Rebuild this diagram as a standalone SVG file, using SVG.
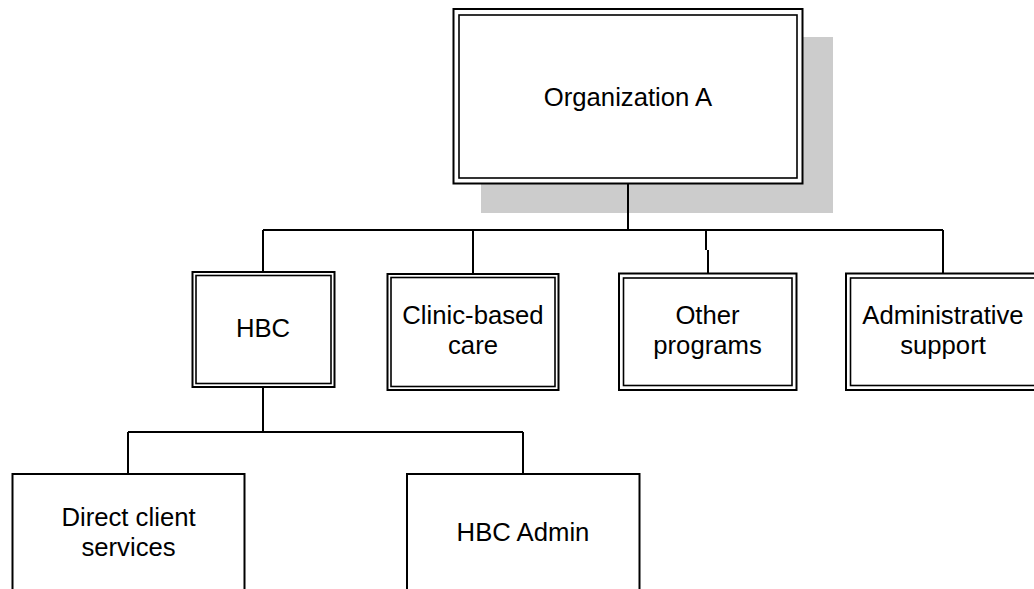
<svg xmlns="http://www.w3.org/2000/svg" width="1034" height="589" viewBox="0 0 1034 589">
<style>
.o{fill:#fff;stroke:#000;stroke-width:2}
.i{fill:none;stroke:#000;stroke-width:1.6}
.s{fill:#fff;stroke:#000;stroke-width:2}
.c{fill:none;stroke:#000;stroke-width:2}
text{font-family:"Liberation Sans",Arial,sans-serif;font-size:25.7px;fill:#000;text-anchor:middle}
</style>
<rect width="1034" height="589" fill="#fff"/>
<g id="orgA">
<rect x="481" y="37" width="352" height="176" fill="#cccccc"/>
<rect class="o" x="453.5" y="9" width="349" height="174.5"/>
<rect class="i" x="459" y="15" width="338" height="163"/>
<text x="628" y="105.5">Organization A</text>
</g>
<g id="connectors">
<path class="c" d="M628 184V230M263 230H943M263 230V272M473 230V274M706 230V250M708 250V274M943 230V273.5"/>
<path class="c" d="M263 387V432M128 432H523M128 432V474M523 432V474"/>
</g>
<g id="hbc">
<rect class="o" x="192.5" y="272" width="142" height="115"/>
<rect class="i" x="196" y="275.5" width="135" height="108"/>
<text x="263" y="337">HBC</text>
</g>
<g id="clinic">
<rect class="o" x="387.5" y="274" width="171" height="116"/>
<rect class="i" x="391" y="277.5" width="164" height="109"/>
<text x="473" y="324">Clinic-based</text>
<text x="473" y="354">care</text>
</g>
<g id="other">
<rect class="o" x="619" y="273.5" width="177.5" height="116.5"/>
<rect class="i" x="623.5" y="278" width="168.5" height="107.5"/>
<text x="707.5" y="324">Other</text>
<text x="707.5" y="354">programs</text>
</g>
<g id="admin">
<rect class="o" x="846" y="273.5" width="194" height="116.5"/>
<rect class="i" x="850.5" y="278" width="185.5" height="107.5"/>
<text x="943" y="324">Administrative</text>
<text x="943" y="354">support</text>
</g>
<g id="direct">
<rect class="s" x="12.5" y="474" width="232" height="130"/>
<text x="128.5" y="525.5">Direct client</text>
<text x="128.5" y="556">services</text>
</g>
<g id="hbcadmin">
<rect class="s" x="407" y="474" width="232.5" height="130"/>
<text x="523" y="540.5">HBC Admin</text>
</g>
</svg>
